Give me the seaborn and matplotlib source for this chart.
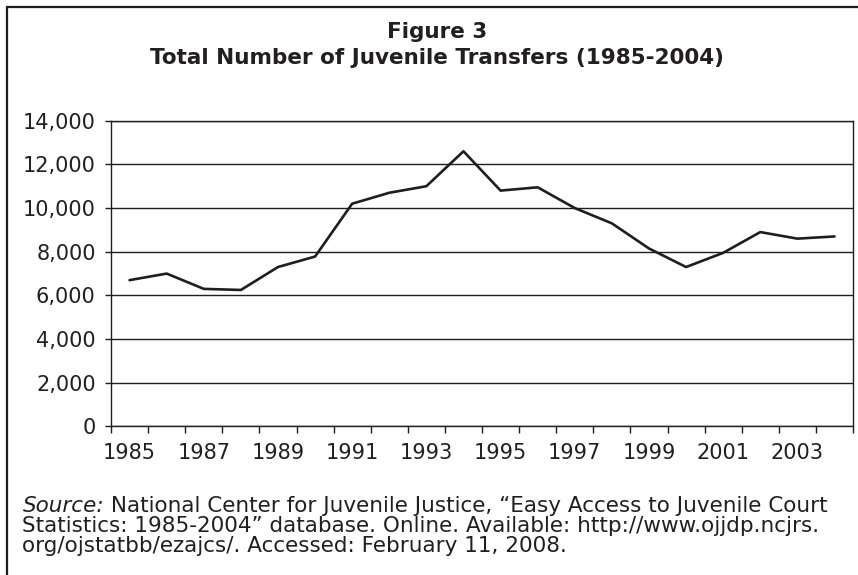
import pandas as pd
import matplotlib.pyplot as plt
import seaborn as sns
from matplotlib.patches import Rectangle
from matplotlib.ticker import FuncFormatter, MultipleLocator

# === Datos ===
anios = list(range(1985, 2005))
transferencias = [6700, 7000, 6300, 6250, 7300, 7780, 10200, 10700, 11000, 12600,
                  10800, 10950, 10000, 9300, 8150, 7300, 7950, 8900, 8600, 8700]
etiquetas_x = [str(a) for a in range(1985, 2004, 2)]

fuente_lineas = [
    " National Center for Juvenile Justice, \u201cEasy Access to Juvenile Court",
    "Statistics: 1985-2004\u201d database. Online. Available: http://www.ojjdp.ncjrs.",
    "org/ojstatbb/ezajcs/. Accessed: February 11, 2008.",
]

df = pd.DataFrame({"Año": anios, "Transferencias": transferencias})

# === Estilo ===
sns.set_style("white")
plt.rcParams["font.family"] = ["DejaVu Sans"]
color_txt = "#231f20"
color_linea = "#1e1e1e"

fig = plt.figure(figsize=(8.58, 5.75), dpi=100)
ax = fig.add_axes([0.1294, 0.2583, 0.9942 - 0.1294, 0.7901 - 0.2583])

sns.lineplot(data=df, x="Año", y="Transferencias", ax=ax, color=color_linea, linewidth=1.9)

ax.set_xlim(1984.5, 2004.5)
ax.set_ylim(0, 14000)
ax.yaxis.set_major_locator(MultipleLocator(2000))
ax.yaxis.set_major_formatter(FuncFormatter(lambda v, p: f"{int(v):,}"))
ax.grid(axis="y", color=color_linea, linewidth=1.0)
ax.set_axisbelow(True)

ax.set_xticks([int(e) for e in etiquetas_x])
ax.set_xticklabels(etiquetas_x)
ax.set_xticks([a - 0.5 for a in anios] + [anios[-1] + 0.5], minor=True)
ax.tick_params(axis="x", which="major", length=0, pad=12, labelsize=15, labelcolor=color_txt)
ax.tick_params(axis="x", which="minor", length=5, width=1, color=color_linea, direction="out", bottom=True)
ax.tick_params(axis="y", length=4, width=1, color=color_linea, direction="out", left=True,
               pad=7, labelsize=15, labelcolor=color_txt)
ax.set_xlabel("")
ax.set_ylabel("")

for lado in ["left", "bottom", "right", "top"]:
    ax.spines[lado].set_color(color_linea)
    ax.spines[lado].set_linewidth(1.0)

# === Título ===
fig.text(0.509, 1 - 38.5 / 575, "Figure 3", ha="center", va="baseline",
         fontsize=15.5, fontweight="bold", color=color_txt)
fig.text(0.509, 1 - 63.5 / 575, "Total Number of Juvenile Transfers (1985-2004)", ha="center",
         va="baseline", fontsize=15.5, fontweight="bold", color=color_txt)

# === Fuente ===
x0 = 22.5 / 858
bases = [511.7, 532.0, 552.3]
tam_fuente = 15.5
t = fig.text(x0, 1 - bases[0] / 575, "Source:", style="italic", fontsize=tam_fuente,
             va="baseline", color=color_txt)
fig.canvas.draw()
r = fig.canvas.get_renderer()
bb = t.get_window_extent(renderer=r)
fig.text(bb.x1 / fig.bbox.width, 1 - bases[0] / 575, fuente_lineas[0], fontsize=tam_fuente,
         va="baseline", color=color_txt)
for linea, b in zip(fuente_lineas[1:], bases[1:]):
    fig.text(x0, 1 - b / 575, linea, fontsize=tam_fuente, va="baseline", color=color_txt)

# === Marco exterior ===
fig.patches.append(Rectangle((6.7 / 858, -0.05), 1.2, 1.05 - 6.7 / 575, transform=fig.transFigure,
                             fill=False, edgecolor=color_linea, linewidth=1.6))

fig.savefig("out.png", dpi=100)
plt.close()
